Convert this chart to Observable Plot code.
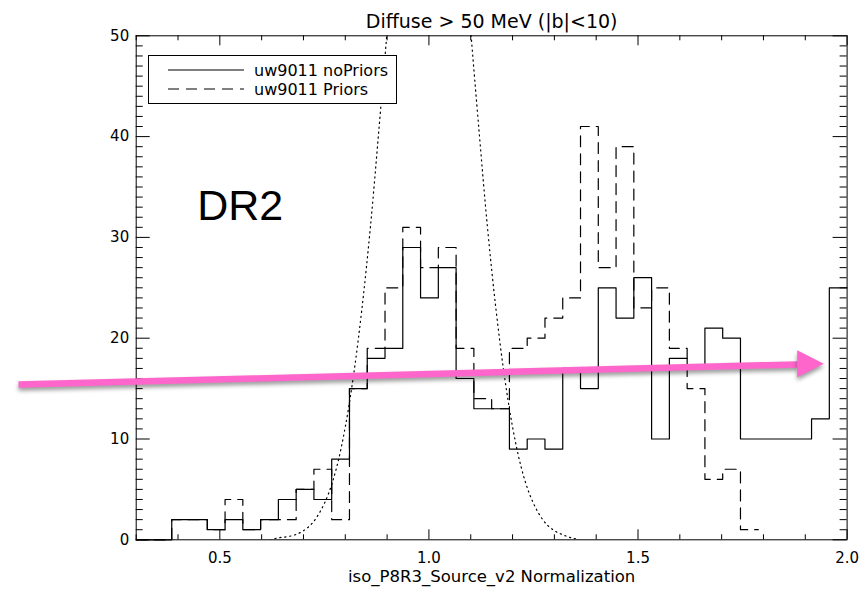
<!DOCTYPE html>
<html>
<head>
<meta charset="utf-8">
<script src="https://cdn.jsdelivr.net/npm/d3@7"></script>
<script src="https://cdn.jsdelivr.net/npm/@observablehq/plot@0.6"></script>
<style>
  html, body { margin: 0; padding: 0; background: #fff; }
  #chart { position: relative; width: 863px; height: 591px; }
  #legend { position: absolute; left: 148px; top: 55px; }
</style>
</head>
<body>
<div id="chart"><div id="legend"></div></div>
<script>
// Histogram binning of the isotropic normalization
const binStart = 0.3;
const binWidth = 0.0425;

// Counts per bin, fit without priors
const noPriorsCounts = [0, 0, 2, 2, 1, 2, 1, 2, 4, 5,
                        4, 8, 15, 18, 19, 29, 24, 27, 16, 13,
                        13, 9, 10, 9, 17, 15, 25, 22, 26, 10,
                        18, 17, 21, 20, 10, 10, 10, 10, 12, 25];

// Counts per bin, fit with priors (no entries beyond the 35th bin)
const priorsCounts = [0, 0, 2, 2, 1, 4, 1, 2, 2, 5,
                      7, 2, 15, 19, 25, 31, 27, 29, 19, 14,
                      13, 19, 20, 22, 24, 41, 27, 39, 23, 25,
                      19, 15, 6, 7, 1];

// Reference profile (dotted), rising and falling flanks
const profileRiseX = [0.62, 0.64, 0.66, 0.68, 0.70, 0.72, 0.74, 0.76, 0.78, 0.80, 0.82, 0.84, 0.86, 0.88, 0.90, 0.91];
const profileRiseY = [0, 0.2, 0.3, 0.5, 0.9, 1.6, 2.8, 4.6, 7.3, 11.2, 16.4, 23, 31, 40.5, 50.5, 56];
const profileFallX = [1.09, 1.10, 1.12, 1.14, 1.16, 1.18, 1.20, 1.22, 1.24, 1.26, 1.28, 1.30, 1.32, 1.34, 1.36];
const profileFallY = [56, 50.5, 40.5, 31, 23, 16.4, 11.2, 7.3, 4.6, 2.8, 1.6, 0.9, 0.5, 0.2, 0];

// Axis ticks
const xMajor = [0.5, 1.0, 1.5, 2.0];
const xMinor = [0.3, 0.4, 0.6, 0.7, 0.8, 0.9, 1.1, 1.2, 1.3, 1.4, 1.6, 1.7, 1.8, 1.9];
const yMajor = [0, 10, 20, 30, 40, 50];
const yMinor = d3.range(0, 51).filter(v => v % 10 !== 0);

// Texts
const titleText = "Diffuse > 50 MeV (|b|<10)";
const xLabelText = "iso_P8R3_Source_v2 Normalization";
const seriesNames = ["uw9011 noPriors", "uw9011 Priors"];
const noteText = "DR2";

// Highlight arrow (data coordinates): shaft and head
const arrowShaftX = [0.0186, 1.8820];
const arrowShaftY = [15.40, 17.40];
const arrowHeadX = [1.8806, 1.9442, 1.8806];
const arrowHeadY = [18.80, 17.46, 16.13];

// ---------------------------------------------------------------
const W = 863, H = 591;
const mL = 135.7, mR = 16.4, mT = 35.3, mB = 51.7;
const innerW = W - mL - mR, innerH = H - mT - mB;
const pink = "#ff66cc";

function steps(counts) {
  const pts = counts.map((c, i) => ({x: binStart + i * binWidth, y: c}));
  pts.push({x: binStart + counts.length * binWidth, y: counts[counts.length - 1]});
  return pts;
}
const zip = (xs, ys) => xs.map((x, i) => ({x, y: ys[i]}));

const chart = Plot.plot({
  width: W,
  height: H,
  marginLeft: mL,
  marginRight: mR,
  marginTop: mT,
  marginBottom: mB,
  style: {fontFamily: "DejaVu Sans", fontSize: "15px", color: "#000", background: "#fff", overflow: "visible"},
  x: {domain: [0.3, 2.0], ticks: xMajor, tickFormat: d3.format(".1f"), tickSize: 0, tickPadding: 13, label: null},
  y: {domain: [0, 50], ticks: yMajor, tickSize: 0, tickPadding: 7, label: null},
  marks: [
    // inward ticks on all four sides
    Plot.ruleX(xMinor, {insetTop: innerH - 5, stroke: "#000"}),
    Plot.ruleX(xMajor, {insetTop: innerH - 10, stroke: "#000"}),
    Plot.ruleX(xMinor, {insetBottom: innerH - 5, stroke: "#000"}),
    Plot.ruleX(xMajor, {insetBottom: innerH - 10, stroke: "#000"}),
    Plot.ruleY(yMinor, {insetRight: innerW - 7, stroke: "#000"}),
    Plot.ruleY(yMajor, {insetRight: innerW - 14, stroke: "#000"}),
    Plot.ruleY(yMinor, {insetLeft: innerW - 7, stroke: "#000"}),
    Plot.ruleY(yMajor, {insetLeft: innerW - 14, stroke: "#000"}),
    Plot.frame({stroke: "#000"}),

    // dotted reference profile
    Plot.line(zip(profileRiseX, profileRiseY), {x: "x", y: "y", curve: "catmull-rom", stroke: "#000", strokeWidth: 1.2, strokeDasharray: "1.2,3.8", clip: true}),
    Plot.line(zip(profileFallX, profileFallY), {x: "x", y: "y", curve: "catmull-rom", stroke: "#000", strokeWidth: 1.2, strokeDasharray: "1.2,3.8", clip: true}),

    // histograms
    Plot.line(steps(noPriorsCounts), {x: "x", y: "y", curve: "step-after", stroke: "#000", strokeWidth: 1.2}),
    Plot.line(steps(priorsCounts), {x: "x", y: "y", curve: "step-after", stroke: "#000", strokeWidth: 1.2, strokeDasharray: "11,7"}),

    // texts
    Plot.text([titleText], {text: d => d, frameAnchor: "top", dy: -21, fontSize: 19}),
    Plot.text([xLabelText], {text: d => d, frameAnchor: "bottom", dy: 42, fontSize: 16.5}),
    Plot.text([noteText], {text: d => d, frameAnchor: "top-left", textAnchor: "start", lineAnchor: "bottom",
                           dx: 61, dy: 184, fontSize: 43, fontFamily: "Liberation Sans"}),

    // highlight arrow
    Plot.line(zip(arrowShaftX, arrowShaftY), {x: "x", y: "y", stroke: pink, strokeWidth: 6.5, strokeLinecap: "butt"}),
    Plot.line(zip(arrowHeadX, arrowHeadY), {x: "x", y: "y", stroke: "none", fill: pink})
  ]
});

document.getElementById("chart").prepend(chart);

// soft shadow beneath the arrow
chart.querySelectorAll(`[stroke="${pink}"], [fill="${pink}"]`).forEach(el => {
  el.style.filter = "drop-shadow(0px 3px 2px rgba(0,0,0,0.4))";
});

// legend box
const lg = d3.select("#legend").append("svg").attr("width", 250).attr("height", 50)
  .style("font-family", "DejaVu Sans").style("font-size", "16px");
lg.append("rect").attr("x", 0.5).attr("y", 0.5).attr("width", 248).attr("height", 48)
  .attr("fill", "#fff").attr("stroke", "#000");
seriesNames.forEach((name, i) => {
  const yy = 15 + i * 19;
  lg.append("line").attr("x1", 20).attr("x2", 96).attr("y1", yy).attr("y2", yy)
    .attr("stroke", "#000").attr("stroke-width", 1.2)
    .attr("stroke-dasharray", i === 1 ? "11,7" : null);
  lg.append("text").attr("x", 106).attr("y", yy).attr("dominant-baseline", "central").text(name);
});
</script>
</body>
</html>
